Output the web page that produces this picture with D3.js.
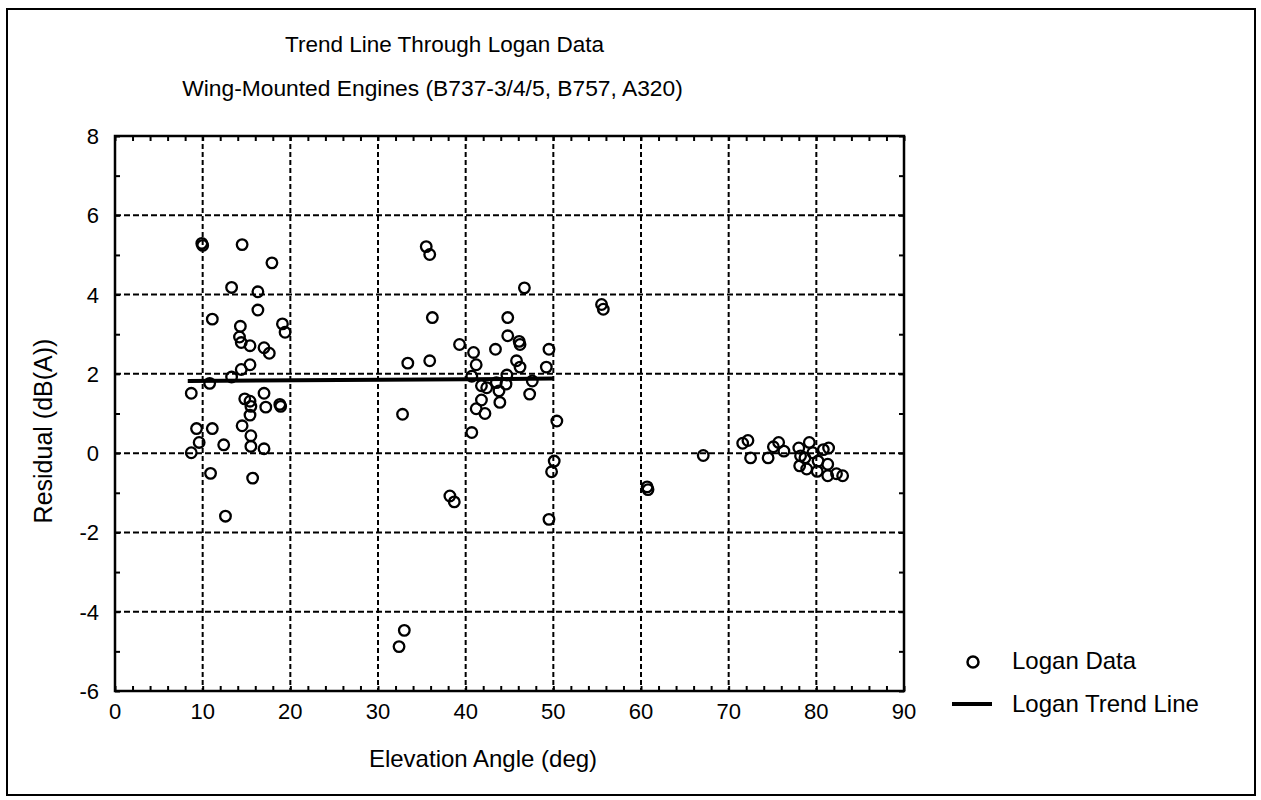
<!DOCTYPE html>
<html><head><meta charset="utf-8">
<script src="https://cdn.jsdelivr.net/npm/d3@7"></script>
<style>body{margin:0;background:#fff}svg text{font-family:"Liberation Sans",Arial,sans-serif;fill:#000}</style>
</head><body><svg id="c" width="1261" height="800"></svg>
<script>
const titleText = "Trend Line Through Logan Data";
const subtitleText = "Wing-Mounted Engines (B737-3/4/5, B757, A320)";
const xLabel = "Elevation Angle (deg)";
const yLabel = "Residual (dB(A))";
const xTicks = [0,10,20,30,40,50,60,70,80,90];
const yTicks = [-6,-4,-2,0,2,4,6,8];
const legendLabels = ["Logan Data","Logan Trend Line"];

const angle = [9.9,10.0,14.5,17.9,13.3,16.3,16.3,11.1,14.3,19.1,19.4,14.2,14.4,15.4,17.0,17.6,15.4,14.4,13.3,10.8,8.7,14.8,15.4,17.0,15.5,17.2,18.8,18.9,15.4,14.5,9.3,11.1,15.5,9.6,12.4,15.5,17.0,8.7,10.9,15.7,12.6,
 35.5,35.9,46.7,36.2,44.8,39.3,44.8,46.1,46.2,49.5,40.9,43.4,33.4,35.9,41.2,45.8,46.2,49.2,40.7,44.7,41.8,43.5,44.6,47.6,42.4,43.8,47.3,41.8,41.2,43.9,42.2,32.8,50.4,40.7,50.1,49.8,49.5,38.2,38.7,33.0,32.4,
 55.5,55.7,60.7,60.8,
 67.1,71.6,72.2,72.5,74.5,75.1,75.7,76.3,78.0,78.2,78.7,79.2,79.6,78.9,80.2,80.8,81.4,81.3,80.1,81.3,82.3,83.0,78.1];
const residual = [5.29,5.24,5.26,4.80,4.18,4.07,3.61,3.38,3.20,3.26,3.05,2.93,2.79,2.71,2.66,2.52,2.23,2.11,1.92,1.76,1.51,1.37,1.31,1.51,1.18,1.16,1.23,1.18,0.96,0.69,0.62,0.62,0.44,0.27,0.21,0.17,0.11,0.01,-0.51,-0.63,-1.59,
 5.21,5.01,4.17,3.42,3.42,2.74,2.96,2.82,2.74,2.62,2.54,2.62,2.27,2.33,2.23,2.33,2.17,2.17,1.94,1.97,1.70,1.78,1.74,1.82,1.65,1.57,1.49,1.34,1.12,1.28,1.00,0.98,0.81,0.52,-0.20,-0.47,-1.67,-1.08,-1.23,-4.47,-4.88,
 3.75,3.63,-0.85,-0.92,
 -0.06,0.25,0.32,-0.12,-0.12,0.16,0.27,0.05,0.13,-0.07,-0.12,0.27,0.01,-0.40,-0.20,0.09,0.13,-0.28,-0.46,-0.57,-0.52,-0.57,-0.32];
const trendX = [8.3,50.0];
const trendY = [1.82,1.88];

const svg = d3.select("#c");
svg.append("rect").attr("x",7).attr("y",9).attr("width",1248).attr("height",786)
  .attr("fill","none").attr("stroke","#000").attr("stroke-width",2);

const L=115, R=904, T=136, B=691;
const x = d3.scaleLinear().domain([0,90]).range([L,R]);
const y = d3.scaleLinear().domain([-6,8]).range([B,T]);

const g = svg.append("g");
g.selectAll(".vg").data(xTicks.filter(d=>d>0&&d<90)).join("line")
  .attr("x1",d=>x(d)).attr("x2",d=>x(d)).attr("y1",T).attr("y2",B)
  .attr("stroke","#000").attr("stroke-width",2).attr("stroke-dasharray","5,3");
g.selectAll(".hg").data(yTicks.filter(d=>d>-6&&d<8)).join("line")
  .attr("y1",d=>y(d)).attr("y2",d=>y(d)).attr("x1",L).attr("x2",R)
  .attr("stroke","#000").attr("stroke-width",2).attr("stroke-dasharray","6,3");

const xMinor = d3.range(0,91,2);
const yMinor = d3.range(-6,8.01,1);
const tk = a=>{a.select(".domain").remove();a.selectAll("line").attr("stroke-width",2);};
svg.append("g").attr("transform",`translate(0,${B})`)
  .call(d3.axisBottom(x).tickValues(xMinor).tickSize(-5).tickFormat("")).call(tk);
svg.append("g").attr("transform",`translate(0,${T})`)
  .call(d3.axisTop(x).tickValues(xMinor).tickSize(-5).tickFormat("")).call(tk);
svg.append("g").attr("transform",`translate(${L},0)`)
  .call(d3.axisLeft(y).tickValues(yMinor).tickSize(-5).tickFormat("")).call(tk);
svg.append("g").attr("transform",`translate(${R},0)`)
  .call(d3.axisRight(y).tickValues(yMinor).tickSize(-5).tickFormat("")).call(tk);

svg.append("g").selectAll("text").data(xTicks).join("text")
  .attr("x",d=>x(d)).attr("y",719).attr("text-anchor","middle")
  .attr("font-size",22).text(d=>d);
svg.append("g").selectAll("text").data(yTicks).join("text")
  .attr("x",99).attr("y",d=>y(d)+8).attr("text-anchor","end")
  .attr("font-size",22).text(d=>d);

svg.append("rect").attr("x",L).attr("y",T).attr("width",R-L).attr("height",B-T)
  .attr("fill","none").attr("stroke","#000").attr("stroke-width",2.5);

svg.append("path").datum(d3.zip(trendX,trendY))
  .attr("d",d3.line().x(d=>x(d[0])).y(d=>y(d[1])))
  .attr("stroke","#000").attr("stroke-width",4).attr("fill","none");

svg.append("g").selectAll("circle").data(d3.zip(angle,residual)).join("circle")
  .attr("cx",d=>x(d[0])).attr("cy",d=>y(d[1])).attr("r",5.3)
  .attr("fill","none").attr("stroke","#000").attr("stroke-width",2.3);

svg.append("text").attr("x",444.5).attr("y",52).attr("text-anchor","middle").attr("font-size",22.5).text(titleText);
svg.append("text").attr("x",432.5).attr("y",96).attr("text-anchor","middle").attr("font-size",22.8).text(subtitleText);
svg.append("text").attr("x",483).attr("y",767).attr("text-anchor","middle").attr("font-size",24).text(xLabel);
svg.append("text").attr("transform","translate(52,431) rotate(-90)").attr("text-anchor","middle").attr("font-size",25).text(yLabel);

svg.append("circle").attr("cx",973).attr("cy",662).attr("r",5.5).attr("fill","none").attr("stroke","#000").attr("stroke-width",2.5);
svg.append("line").attr("x1",952).attr("x2",992).attr("y1",704).attr("y2",704).attr("stroke","#000").attr("stroke-width",4);
svg.append("text").attr("x",1012).attr("y",669).attr("font-size",24).text(legendLabels[0]);
svg.append("text").attr("x",1012).attr("y",712).attr("font-size",24).text(legendLabels[1]);
</script></body></html>
